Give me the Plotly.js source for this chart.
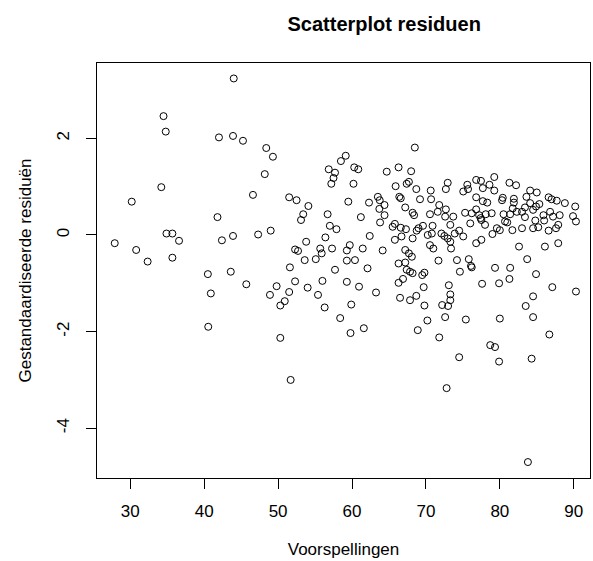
<!DOCTYPE html>
<html>
<head>
<meta charset="utf-8">
<script src="https://cdn.plot.ly/plotly-3.0.1.min.js"></script>
<style>html,body{margin:0;padding:0;background:#fff;}#chart{width:593px;height:561px;}</style>
</head>
<body>
<div id="chart"></div>
<script>
var chartTitle = "Scatterplot residuen";
var xTitle = "Voorspellingen";
var yTitle = "Gestandaardiseerde residuën";
var xTickVals = [30, 40, 50, 60, 70, 80, 90];
var yTickVals = [-4, -2, 0, 2];

// Predicted values (Voorspellingen)
var predicted = [
  34.5,34.8,42.0,34.2,30.2,41.8,34.9,35.7,36.6,27.9,30.8,42.4,35.7,32.35,40.5,40.9,40.55,
  44.0,43.9,45.25,48.4,49.3,48.2,46.6,51.5,52.5,54.1,53.4,53.1,56.85,57.7,57.5,57.2,56.7,57.0,57.9,56.4,53.8,52.3,52.7,55.7,57.3,55.9,43.9,47.3,49.0,
  43.6,45.7,51.6,53.6,55.1,57.7,49.8,48.9,52.3,51.5,50.9,50.3,54.0,56.0,55.4,56.3,58.4,50.3,51.7,
  68.5,59.15,58.5,60.3,60.85,64.7,66.3,68.0,60.2,65.9,67.4,67.7,68.7,70.65,72.95,72.7,59.5,62.3,63.5,63.75,64.4,63.7,66.4,66.6,69.2,70.7,67.2,68.2,68.4,64.4,61.2,70.55,71.8,71.6,72.7,72.6,73.7,
  63.8,65.8,65.5,66.6,67.3,68.75,69.0,69.6,70.9,70.8,70.25,73.3,72.1,72.5,72.95,73.4,73.3,62.4,68.2,65.8,66.7,59.7,59.3,61.45,64.15,67.2,67.7,68.1,70.55,71.0,
  59.3,60.4,62.1,59.3,60.95,63.25,59.9,59.8,61.6,66.3,67.2,67.4,67.85,68.2,66.9,66.3,69.5,69.8,69.7,66.5,67.85,68.7,69.8,70.2,68.9,71.7,73.1,73.3,72.2,73.0,73.3,72.6,71.8,72.8,
  74.2,75.8,76.1,76.2,74.6,79.35,81.4,83.7,84.9,77.6,79.9,81.3,87.1,90.3,84.5,83.5,75.4,80.0,84.5,86.7,78.7,79.35,74.5,79.9,84.3,83.8,
  79.25,76.8,77.45,75.6,78.6,81.3,82.2,75.05,75.7,77.7,79.25,84.1,85.0,80.4,80.3,76.8,77.7,78.3,81.9,81.9,83.6,84.1,86.6,87.0,87.7,88.8,90.2,85.35,84.9,83.4,83.0,82.3,81.4,80.5,78.9,78.1,76.8,77.2,77.4,77.5,76.2,75.3,
  76.0,78.0,79.6,80.0,81.0,81.7,83.0,83.4,84.5,84.8,84.5,85.2,85.9,86.8,87.2,88.1,87.9,87.6,86.6,89.9,90.3,86.0,80.7,79.0,74.5,73.9,75.05,76.8,77.5,82.6,86.1,87.9,81.75
];

// Standardised residuals (Gestandaardiseerde residuën)
var residuals = [
  2.46,2.14,2.02,0.99,0.69,0.37,0.03,0.03,-0.12,-0.17,-0.31,-0.11,-0.47,-0.55,-0.81,-1.21,-1.90,
  3.24,2.05,1.95,1.80,1.62,1.26,0.83,0.78,0.72,0.60,0.43,0.31,1.36,1.29,1.18,1.06,0.43,0.19,0.12,-0.05,-0.14,-0.30,-0.33,-0.28,-0.28,-0.38,-0.02,0.01,0.09,
  -0.76,-1.02,-0.67,-0.52,-0.50,-0.72,-1.06,-1.24,-0.96,-1.18,-1.37,-1.46,-1.09,-0.95,-1.24,-1.50,-1.72,-2.13,-3.00,
  1.81,1.64,1.53,1.40,1.36,1.31,1.40,1.32,1.06,1.01,1.06,1.10,0.95,0.92,1.08,0.95,0.69,0.67,0.79,0.72,0.62,0.54,0.79,0.76,0.74,0.74,0.57,0.46,0.41,0.41,0.37,0.43,0.62,0.48,0.53,0.38,0.38,
  0.26,0.23,0.17,0.15,0.12,0.09,0.14,0.19,0.19,0.03,0.00,0.21,0.03,-0.02,-0.07,-0.28,-0.14,-0.02,-0.07,-0.10,-0.03,-0.21,-0.32,-0.28,-0.32,-0.31,-0.38,-0.45,-0.21,-0.28,
  -0.53,-0.52,-0.69,-0.97,-1.07,-1.19,-1.44,-2.03,-1.93,-0.59,-0.57,-0.72,-0.76,-0.79,-0.91,-0.99,-0.83,-0.78,-1.08,-1.30,-1.35,-1.26,-1.46,-1.77,-1.97,-0.53,-1.04,-1.23,-1.45,-1.47,-1.35,-1.70,-2.12,-3.17,
  -0.52,-0.50,-0.64,-0.67,-0.76,-0.68,-0.68,-0.50,-0.81,-1.01,-1.00,-0.91,-1.08,-1.17,-1.27,-1.47,-1.75,-1.73,-1.70,-2.06,-2.28,-2.32,-2.53,-2.62,-2.56,-4.70,
  1.20,1.14,1.12,1.04,1.04,1.08,1.03,0.90,0.95,0.97,0.92,0.92,0.88,0.77,0.72,0.78,0.70,0.67,0.75,0.67,0.79,0.66,0.78,0.74,0.71,0.66,0.59,0.64,0.59,0.57,0.48,0.48,0.43,0.43,0.45,0.43,0.53,0.41,0.35,0.31,0.45,0.46,
  0.24,0.21,0.14,0.10,0.26,0.10,0.14,0.37,0.52,0.30,0.14,0.16,0.41,0.48,0.38,0.41,0.21,0.14,0.09,0.39,0.28,0.30,0.28,0.02,0.09,0.03,-0.03,-0.17,-0.10,-0.24,-0.24,-0.17,0.55
];

var fontFam = "Liberation Sans, Arial, Helvetica, sans-serif";

var trace = {
  x: predicted,
  y: residuals,
  type: "scatter",
  mode: "markers",
  marker: {
    symbol: "circle-open",
    size: 7,
    color: "#000000",
    line: {width: 1, color: "#000000"}
  },
  hoverinfo: "x+y"
};

var layout = {
  width: 593,
  height: 561,
  margin: {l: 97, r: 3, t: 63, b: 83, pad: 0},
  paper_bgcolor: "#ffffff",
  plot_bgcolor: "#ffffff",
  showlegend: false,
  font: {family: fontFam, size: 17, color: "#000000"},
  title: {
    text: "<b>" + chartTitle + "</b>",
    font: {family: fontFam, size: 20, color: "#000000"},
    x: 0.5825, xref: "paper", xanchor: "center",
    y: 1 - 24 / 561, yref: "container", yanchor: "middle"
  },
  xaxis: {
    range: [25.5, 92.2],
    tickvals: xTickVals,
    ticktext: xTickVals.map(String),
    ticks: "outside",
    ticklen: 10,
    tickwidth: 1,
    tickcolor: "#000000",
    ticklabelstandoff: 8,
    showline: true,
    linecolor: "#000000",
    linewidth: 1,
    mirror: true,
    showgrid: false,
    zeroline: false,
    tickfont: {family: fontFam, size: 17, color: "#000000"},
    title: {text: xTitle, font: {family: fontFam, size: 17, color: "#000000"}, standoff: 22}
  },
  yaxis: {
    range: [-5.03, 3.56],
    tickvals: yTickVals,
    ticktext: yTickVals.map(String),
    tickangle: -90,
    ticks: "outside",
    ticklen: 10,
    tickwidth: 1,
    tickcolor: "#000000",
    ticklabelstandoff: 10,
    showline: true,
    linecolor: "#000000",
    linewidth: 1,
    mirror: true,
    showgrid: false,
    zeroline: false,
    tickfont: {family: fontFam, size: 17, color: "#000000"},
    title: {text: yTitle, font: {family: fontFam, size: 17, color: "#000000"}, standoff: 18}
  }
};

Plotly.newPlot("chart", [trace], layout, {displayModeBar: false, staticPlot: true});
</script>
</body>
</html>
